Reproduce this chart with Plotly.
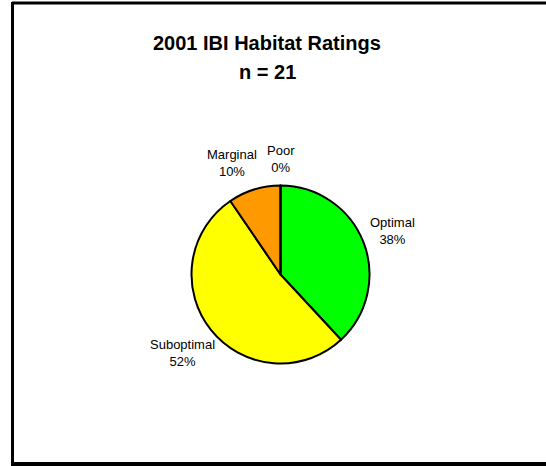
import math
import plotly.graph_objects as go

categories = ["Optimal", "Suboptimal", "Marginal", "Poor"]
counts = [8, 11, 2, 0]
colors = ["#00FF00", "#FFFF00", "#FF9900", "#FF0000"]
title_line1 = "2001 IBI Habitat Ratings"
title_line2 = "n = 21"

W, H = 546, 466

def px(x):
    return x / W

def py(y):
    return 1 - y / H

cx, cy, r = 280.5, 274.5, 89
label_size = 13
gap = 10

fig = go.Figure()
fig.add_trace(go.Pie(
    labels=categories,
    values=counts,
    sort=False,
    direction="clockwise",
    rotation=0,
    marker=dict(colors=colors, line=dict(color="black", width=2)),
    textinfo="none",
    showlegend=False,
    hoverinfo="label+percent",
    domain=dict(x=[px(cx - r), px(cx + r)], y=[py(cy + r), py(cy - r)]),
))

# Outside labels placed radially from each slice's mid-angle (derived from the data)
total = sum(counts)
boxes = []
cum = 0.0
for name, v in zip(categories, counts):
    frac = v / total
    mid = (cum + frac / 2) * 2 * math.pi
    cum += frac
    ux, uy = math.sin(mid), -math.cos(mid)
    pct = round(frac * 100)
    text = "%s<br>%d%%" % (name, pct)
    hw = max(len(name), len("%d%%" % pct)) * 0.47 * label_size / 2
    hh = 17
    d = r + gap + math.hypot(hw * ux, hh * uy)
    boxes.append(dict(text=text, x=cx + d * ux, y=cy + d * uy, hw=hw, hh=hh, ux=ux))

# simple collision avoidance: push the more sideways label horizontally away
min_sep = 12
for i in range(len(boxes)):
    for j in range(len(boxes)):
        if i == j:
            continue
        a, b = boxes[i], boxes[j]
        if abs(a["ux"]) <= abs(b["ux"]):
            continue
        overlap_y = abs(a["y"] - b["y"]) < a["hh"] + b["hh"]
        overlap_x = abs(a["x"] - b["x"]) < a["hw"] + b["hw"] + min_sep
        if overlap_x and overlap_y:
            sgn = 1 if a["x"] > b["x"] else -1
            a["x"] = b["x"] + sgn * (a["hw"] + b["hw"] + min_sep)

annotations = [
    dict(text="<b>%s</b>" % title_line1, x=px(267), y=py(43), xref="paper", yref="paper",
         showarrow=False, font=dict(size=20, color="black"), xanchor="center", yanchor="middle"),
    dict(text="<b>%s</b>" % title_line2, x=px(267), y=py(72), xref="paper", yref="paper",
         showarrow=False, font=dict(size=20, color="black"), xanchor="center", yanchor="middle"),
]
for b in boxes:
    annotations.append(dict(text=b["text"], x=px(b["x"]), y=py(b["y"]), xref="paper", yref="paper",
                            showarrow=False, font=dict(size=label_size, color="black"),
                            xanchor="center", yanchor="middle", align="center"))

fig.update_layout(
    width=W, height=H,
    margin=dict(l=0, r=0, t=0, b=0),
    paper_bgcolor="white",
    plot_bgcolor="white",
    font=dict(family="Liberation Sans, Arial", color="black"),
    annotations=annotations,
    shapes=[
        dict(type="line", xref="paper", yref="paper", x0=px(12), x1=1, y0=py(3), y1=py(3),
             line=dict(color="black", width=3)),
        dict(type="line", xref="paper", yref="paper", x0=px(12.5), x1=px(12.5), y0=py(2), y1=py(464),
             line=dict(color="black", width=3)),
        dict(type="line", xref="paper", yref="paper", x0=px(11), x1=1, y0=py(464), y1=py(464),
             line=dict(color="black", width=4)),
    ],
)

fig.write_html("out.html", config={"displayModeBar": False},
               post_script="document.body.style.margin='0';document.body.style.overflow='hidden';")
